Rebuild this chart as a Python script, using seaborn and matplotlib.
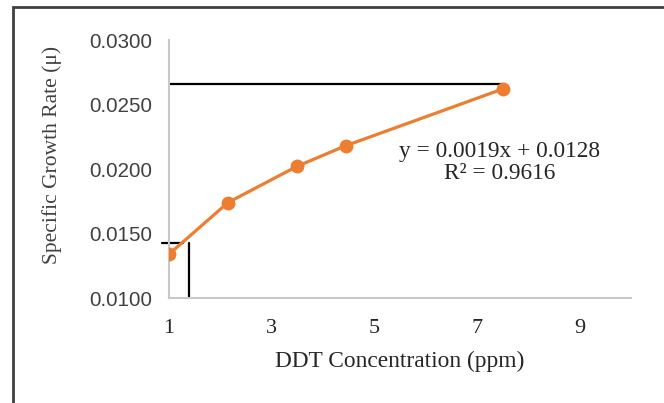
import matplotlib
matplotlib.use("Agg")
import matplotlib.pyplot as plt
import seaborn as sns
import pandas as pd
from matplotlib.patches import Rectangle

# datos
ddt_ppm = [1.0, 2.15, 3.49, 4.44, 7.5]
growth_rate = [0.0134, 0.0174, 0.0202, 0.0218, 0.0262]

# lineas guia negras
top_line_x = [1.0, 7.5]
top_line_y = [0.0266, 0.0266]
low_line_x = [0.86, 1.27]
low_line_y = [0.0143, 0.0143]
vert_line_x = [1.39, 1.39]
vert_line_y = [0.0100, 0.0143]

x_ticks = [1, 3, 5, 7, 9]
y_ticks = [0.0100, 0.0150, 0.0200, 0.0250, 0.0300]
equation = "y = 0.0019x + 0.0128\nR² = 0.9616"

sns.set_style("white")
plt.rcParams['font.family'] = ['Liberation Serif', 'DejaVu Serif']

df = pd.DataFrame({"ddt": ddt_ppm, "mu": growth_rate})

fig = plt.figure(figsize=(6.64, 4.03), dpi=100)
ax = fig.add_axes([0.2545, 0.2605, 0.6955, 0.6402])

sns.lineplot(data=df, x="ddt", y="mu", ax=ax, color="#ED7D31", linewidth=2.3,
             marker="o", markersize=10, markeredgewidth=0, zorder=3)

ax.plot(top_line_x, top_line_y, color="black", linewidth=1.6, zorder=2)
ax.plot(low_line_x, low_line_y, color="black", linewidth=1.6, clip_on=False, zorder=2)
ax.plot(vert_line_x, vert_line_y, color="black", linewidth=1.6, zorder=2)

ax.set_xlim(1, 10)
ax.set_ylim(0.01, 0.03)
ax.set_xticks(x_ticks)
ax.set_xticklabels([str(t) for t in x_ticks], fontsize=16, color="#262626")
ax.set_yticks(y_ticks)
ax.set_yticklabels([f"{t:.4f}" for t in y_ticks], fontsize=14.8, color="#404040",
                   family=['Liberation Sans', 'DejaVu Sans'])
ax.tick_params(axis="x", length=0, pad=15)
ax.tick_params(axis="y", length=0, pad=12)

for side in ["top", "right"]:
    ax.spines[side].set_visible(False)
for side in ["left", "bottom"]:
    ax.spines[side].set_color("#c8c8c8")
    ax.spines[side].set_linewidth(1.5)

ax.set_xlabel("DDT Concentration (ppm)", fontsize=16.8, color="#262626", labelpad=9)
ax.set_ylabel("Specific Growth Rate (μ)", fontsize=15.5, color="#404040")
ax.yaxis.set_label_coords(-0.232, 0.554)

ax.text(7.45, 0.0205, equation, ha="center", va="center", multialignment="center",
        fontsize=16.8, color="#262626", linespacing=1.1)

fig.patches.append(Rectangle((13 / 664, -0.1), 1.2, 1.1 - 7 / 403, transform=fig.transFigure,
                             fill=False, edgecolor="#404040", linewidth=2))

fig.savefig("out.png", dpi=100)
